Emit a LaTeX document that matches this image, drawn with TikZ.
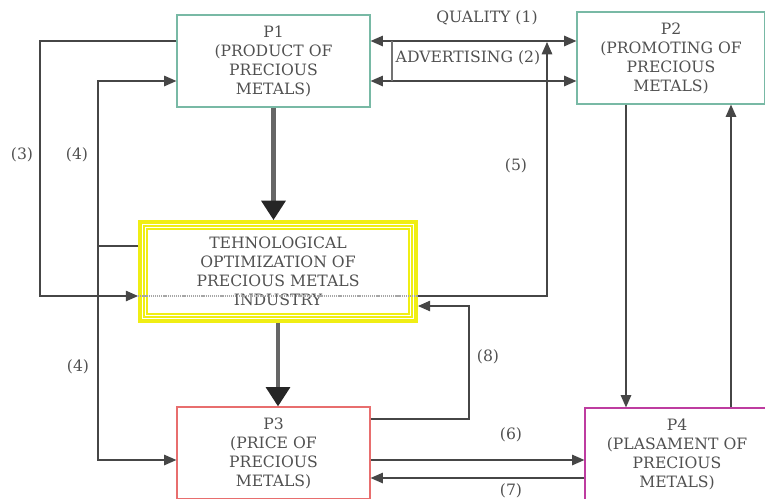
\documentclass[tikz,border=0pt]{standalone}
\usepackage{fontspec}
\setmainfont{DejaVu Serif}
\usepackage{tikz}
\usetikzlibrary{
    arrows.meta,
    calc
}
\definecolor{prodgreen}{RGB}{120,185,165}
\definecolor{pricered}{RGB}{232,110,110}
\definecolor{placemag}{RGB}{190,60,160}
\definecolor{techyellow}{RGB}{240,238,20}
\definecolor{linkgray}{RGB}{70,70,70}
\definecolor{textgray}{RGB}{80,80,80}
\tikzset{
    pbox/.style={draw, line width=0.7pt, minimum width=#1*0.02cm,
                 minimum height=1.84cm, align=center, inner sep=0pt,
                 text=textgray, font=\fontsize{8.9}{10.8}\selectfont},
    tframe/.style={draw=techyellow, line width=1.1pt},
    link/.style={draw=linkgray, line width=0.7pt,
                 -{Triangle[length=7pt, width=6pt]}},
    plainlink/.style={draw=linkgray, line width=0.7pt},
    biglink/.style={draw=black!60, line width=2.3pt,
                    -{Triangle[length=11pt, width=13.5pt, color=black!85]}},
    lbl/.style={text=textgray, font=\fontsize{8.9}{10.8}\selectfont}
}

\begin{document}
\begin{tikzpicture}[x=0.02cm, y=-0.02cm]
    \useasboundingbox (0,0) rectangle (765,498);
    \clip (0,0) rectangle (765,498);

    %% Nodes
        \node[pbox=193, draw=prodgreen] (p1) at (273.5,61)
              {P1\\(PRODUCT OF\\PRECIOUS\\METALS)};
        \node[pbox=188, draw=prodgreen] (p2) at (671,58)
              {P2\\(PROMOTING OF\\PRECIOUS\\METALS)};
        \node[pbox=193, draw=pricered] (p3) at (273.5,453)
              {P3\\(PRICE OF\\PRECIOUS\\METALS)};
        \node[pbox=184, draw=placemag] (p4) at (677,454)
              {P4\\(PLASAMENT OF\\PRECIOUS\\METALS)};
        \node[tframe, minimum width=5.56cm, minimum height=2.02cm,
              align=center, inner sep=0pt, text=textgray,
              font=\fontsize{8.9}{10.8}\selectfont] (tech) at (278,271.5)
              {TEHNOLOGICAL\\OPTIMIZATION OF\\PRECIOUS METALS\\INDUSTRY};
        \foreach \d in {3,6,9}
            \draw[tframe] ($(tech.north west)+(\d,\d)$)
                  rectangle ($(tech.south east)-(\d,\d)$);

    %% Lanes
        \coordinate (lq) at (0,41);
        \coordinate (la) at (0,81);
        \coordinate (c3) at (40,296);
        \coordinate (c4) at (98,246);
        \coordinate (c5) at (547,42);
        \coordinate (c8a) at (469,419);
        \coordinate (c8b) at (469,306);
        \coordinate (l6) at (0,460);
        \coordinate (l7) at (0,478);
        \coordinate (xd) at (626,0);
        \coordinate (xu) at (731,0);

    %% Edges
        \draw[biglink] (p1.south) -- (tech.north -| p1.south);
        \draw[biglink] (tech.south) -- (p3.north -| tech.south);

        \draw[link, {Triangle[length=7pt, width=6pt]}-{Triangle[length=7pt, width=6pt]}]
              (p1.east |- lq) -- (p2.west |- lq);
        \draw[link, {Triangle[length=7pt, width=6pt]}-{Triangle[length=7pt, width=6pt]}]
              (p1.east |- la) -- (p2.west |- la);
        \draw[draw=black!55, line width=1.6pt] (392,41) -- (392,81);

        \draw[link] (p1.west |- lq) -| (c3) -- (tech.west |- c3);
        \draw[draw=black!35, line width=1.5pt, dash pattern=on 0.7pt off 0.5pt]
              (tech.west |- c3) -- (tech.east |- c3);
        \draw[link] (tech.east |- c3) -| (c5);

        \draw[plainlink] (tech.west |- c4) -- (c4);
        \draw[link] (c4) |- (p1.west |- la);
        \draw[link] (c4) |- (p3.west |- l6);

        \draw[link] (p3.east |- c8a) -- (c8a) -- (c8b) -- (tech.east |- c8b);
        \draw[link] (p3.east |- l6) -- (p4.west |- l6);
        \draw[link] (p4.west |- l7) -- (p3.east |- l7);

        \draw[link] (p2.south -| xd) -- (p4.north -| xd);
        \draw[link] (p4.north -| xu) -- (p2.south -| xu);

    %% Labels
        \node[lbl] (q1) at (487,18) {QUALITY (1)};
        \node[lbl] (q2) at (468,58) {ADVERTISING (2)};
        \node[lbl] (q3) at (22,155) {(3)};
        \node[lbl] (q4a) at (77,155) {(4)};
        \node[lbl] (q4b) at (78,367) {(4)};
        \node[lbl] (q5) at (516,166) {(5)};
        \node[lbl] (q6) at (511,435) {(6)};
        \node[lbl] (q7) at (511,491) {(7)};
        \node[lbl] (q8) at (488,357) {(8)};
\end{tikzpicture}
\end{document}
